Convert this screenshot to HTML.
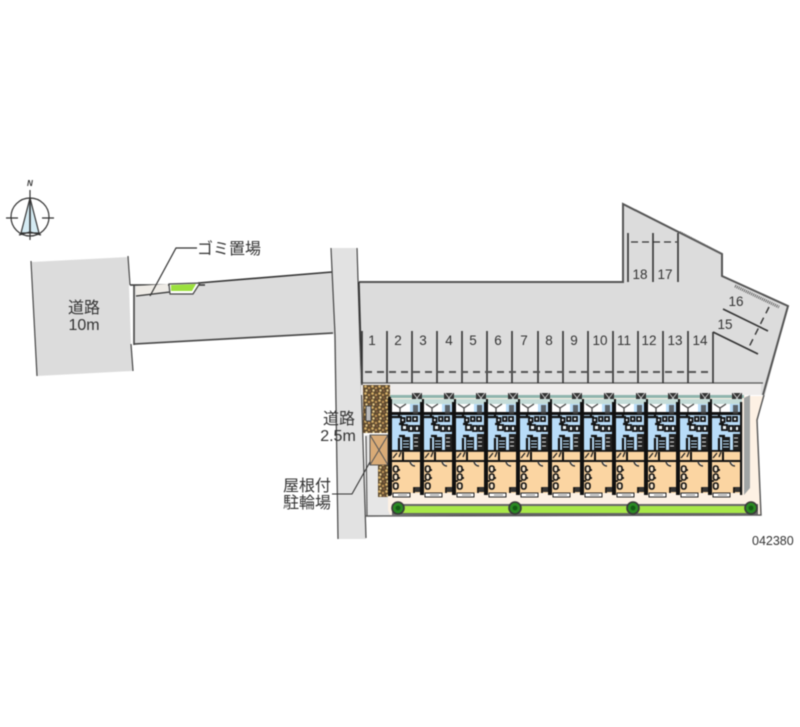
<!DOCTYPE html>
<html lang="ja"><head><meta charset="utf-8"><title>配置図</title>
<style>
html,body{margin:0;padding:0;background:#fff}
svg{display:block;filter:blur(.45px)}
text{font-family:"Liberation Sans","Noto Sans CJK JP",sans-serif;fill:#333}
</style></head><body>
<svg width="800" height="727" viewBox="0 0 800 727" xmlns="http://www.w3.org/2000/svg">
<defs>
<g id="unit">
<!-- balcony marker -->
<rect x="22" y="393" width="10" height="10" fill="#333"/>
<path d="M23 393l4 5 4-5M24 402l3-4 3 4" stroke="#ccc" fill="none"/>
<!-- top -->
<rect x="1" y="399" width="31" height="5" fill="#c5dcd8"/>
<rect x="2" y="404" width="18" height="8" fill="#fff"/>
<path d="M4 404l6 4 6-4M10 408v4" stroke="#444" stroke-width="1.3" fill="none"/>
<rect x="20" y="404" width="10" height="10" fill="#b8dcf8"/>
<!-- blue -->
<rect x="2" y="412" width="29" height="39" fill="#b8dcf8"/>
<rect x="1" y="412" width="30" height="3" fill="#111"/>
<path d="M9 424h5M9 436h6M2 417h10M9 415v3M9 438v12" stroke="#111" stroke-width="2.2" fill="none"/>
<g fill="#eef6fb" stroke="#111" stroke-width="1.8">
<rect x="11" y="418" width="3.5" height="4"/><rect x="17" y="417" width="3.5" height="4"/><rect x="23" y="417" width="4" height="4"/>
<rect x="12" y="425" width="5" height="5"/><rect x="19" y="426" width="4" height="5"/><rect x="25" y="426" width="4" height="5"/>
</g>
<rect x="12" y="437" width="8" height="13" fill="#1a1a1a"/>
<path d="M13 441h6M13 444h6M13 447h6" stroke="#b8dcf8" fill="none"/>
<rect x="23" y="434" width="7" height="16" fill="#222"/>
<path d="M24 438h4M24 442h4M24 446h4" stroke="#ddd" fill="none"/>
<rect x="23" y="405" width="5" height="9" fill="#444" opacity=".8"/>
<!-- orange -->
<rect x="2" y="451" width="29" height="42" fill="#fbd5a2"/>
<rect x="1" y="450" width="31" height="1.8" fill="#111"/>
<path d="M2 461h11v-9M14 461h17" stroke="#111" stroke-width="2" fill="none"/>
<path d="M3 458l4-5M9 457l2-5" stroke="#222" stroke-width="1.3" fill="none"/>
<path d="M20 461a5 5 0 0 0 5 5" stroke="#333" stroke-width="1.4" fill="#fff"/>
<g fill="#fae8cf" stroke="#111" stroke-width="1.6">
<rect x="3.5" y="466" width="4.5" height="6" rx="2"/><rect x="3.5" y="474" width="4.5" height="6" rx="2"/><rect x="3.5" y="483" width="4.5" height="6" rx="2"/>
</g>
<path d="M1 481h3M8 470h2M8 478h2M24 493v-5h7" stroke="#111" stroke-width="1.8" fill="none"/>
<rect x="25" y="487" width="6" height="5" fill="#333"/>
<!-- walls -->
<rect x="0" y="399" width="2" height="96" fill="#111"/>
<rect x="30" y="402" width="2.2" height="93" fill="#111"/>
<!-- bottom box -->
<rect x="3" y="493" width="17" height="4" fill="#fff" stroke="#222" stroke-width="1"/>
<path d="M8 495h9" stroke="#888" fill="none"/>
</g>
<g id="tree">
<circle r="6" fill="#2a8a22" stroke="#3a3a3a" stroke-width="1.6"/>
<circle r="2.4" fill="#145a14"/>
</g>
<pattern id="grav" width="7" height="7" patternUnits="userSpaceOnUse">
<rect width="7" height="7" fill="#5e4a2e"/>
<circle cx="1.5" cy="1.5" r="1.3" fill="#d9b36a"/><circle cx="5" cy="3" r="1.2" fill="#c2965a"/><circle cx="2.5" cy="5.5" r="1.2" fill="#e3c98c"/><circle cx="6" cy="6" r=".8" fill="#9a6a4a"/>
</pattern>
</defs>

<!-- compass -->
<g fill="none" stroke="#333" stroke-width="1.2">
<circle cx="30" cy="217" r="19"/>
<path d="M30 190V240"/>
<path d="M6 218h12M42 218h12"/>
<path d="M30 198L21 233H39Z" fill="#d5ebf3"/>
<path d="M30 198V233" stroke-width="1.6"/>
<path d="M19 235l11-3 11 3"/>
</g>
<text x="27" y="186" style="font:italic bold 8px 'Liberation Sans',sans-serif" fill="#222">N</text>

<!-- left road -->
<polygon points="32,262 128,257 131,345 133,371 37,376" fill="#dcdcdc"/>
<path d="M31 261l6 115M128 256l2 29M131 344l2 27" stroke="#444" stroke-width="1.2" fill="none"/>
<polygon points="134,285 198,283 332,272 335,334 134,345" fill="#dcdcdc"/>
<path d="M130 285H205M198 283L332 272" stroke="#333" stroke-width="1.6" fill="none"/>
<path d="M134 344L333 333" stroke="#444" stroke-width="1.6" fill="none"/>
<path d="M134 285V345" stroke="#444" stroke-width="1.6" fill="none"/>
<!-- garbage area -->
<polygon points="136,286 168,284 168,291 136,296" fill="#eeebe6"/>
<path d="M136 296L170 292" stroke="#333" stroke-width="1.2" fill="none"/>
<polygon points="169,284 200,283 193,294 170,294" fill="#fff" stroke="#444" stroke-width="1.2"/>
<polygon points="171,285 196,284 192,291 171,291" fill="#9be03e"/>
<path d="M150 296L176 248H197" stroke="#333" stroke-width="1.2" fill="none"/>
<text x="197" y="254" font-size="16">ゴミ置場</text>
<text x="84" y="313" font-size="16" text-anchor="middle">道路</text>
<text x="84" y="330" font-size="16" text-anchor="middle">10m</text>

<!-- vertical road -->
<polygon points="332,248 356,248 366,539 338,539" fill="#e2e2e2"/>
<path d="M331 248L335 335L338 539M357 248L360 345L366 538" stroke="#444" stroke-width="1.2" fill="none"/>

<!-- parking lot -->
<polygon points="359,282 622,282 622,204 722,254 722,276 788,306 765,395 361,395" fill="#dcdcdc"/>
<rect x="361" y="383" width="400" height="12" fill="#eeeceb"/>
<path d="M359 282H623V204L722 254V276L788 306L763 395" fill="none" stroke="#555" stroke-width="2"/>
<path d="M359 282L362 385" stroke="#333" stroke-width="1.4" fill="none"/>
<path d="M361 383H763" stroke="#555" stroke-width="1.2" fill="none"/>
<path d="M735 286L779 307" stroke="#666" stroke-width="3" stroke-dasharray="1 1" fill="none"/>
<path d="M680 232L722 254" stroke="#666" stroke-width="2" stroke-dasharray="1 1" fill="none"/>

<!-- bays -->
<g stroke="#333" stroke-width="1.6" fill="none">
<path d="M362 331V383M387 331V383M412 331V383M437 331V383M462 331V383M487 331V383M512 331V383M538 331V383M563 331V383M588 331V383M613 331V383M638 331V383M663 331V383M688 331V383M713 332V383"/>
<path d="M628 233V282M653 233V282M678 233V282"/>
<path d="M723 309L768 331M713 332L758 354"/>
</g>
<path d="M365 372H713" stroke="#555" stroke-width="2" stroke-dasharray="7 5" fill="none"/>
<path d="M631 242H677" stroke="#333" stroke-width="1.2" stroke-dasharray="7 4" fill="none"/>
<path d="M769 307L749 347" stroke="#333" stroke-width="1.4" stroke-dasharray="7 5" fill="none"/>
<g font-size="13.5" text-anchor="middle" fill="#333">
<text x="372" y="345">1</text><text x="398" y="345">2</text><text x="423" y="345">3</text><text x="449" y="345">4</text><text x="473" y="345">5</text><text x="498" y="345">6</text><text x="524" y="345">7</text><text x="549" y="345">8</text><text x="574" y="345">9</text><text x="600" y="345">10</text><text x="624" y="345">11</text><text x="649" y="345">12</text><text x="675" y="345">13</text><text x="700" y="345">14</text>
<text x="640" y="279">18</text><text x="665" y="279">17</text>
<text x="736" y="306">16</text><text x="725" y="329">15</text>
</g>

<!-- site ground -->
<polygon points="388,396 763,396 757,425 761,515 388,515" fill="#fdf1e4"/>
<polygon points="365,435 388,435 388,510 390,515 367,515" fill="#e6e6e6"/>
<path d="M764 395L757 420L761 515L366 516" stroke="#555" stroke-width="1.4" fill="none"/>
<path d="M366 436L367 516" stroke="#555" stroke-width="1.2" fill="none"/>
<rect x="390" y="395" width="354" height="3" fill="#8fb5ae"/>
<polygon points="744,398 750,395 750,488 744,495" fill="#a0a4a4"/>

<!-- gravel + bike -->
<rect x="363" y="385" width="27" height="48" fill="url(#grav)"/>
<rect x="366" y="406" width="5" height="15" fill="#bbb" stroke="#444"/>
<rect x="370" y="435" width="18" height="30" fill="#d9ab77" stroke="#555"/>
<path d="M370 435L388 465M388 435L370 465" stroke="#555" fill="none"/>
<rect x="378" y="465" width="10" height="32" fill="url(#grav)"/>
<path d="M332 494H352L370 462" stroke="#333" stroke-width="1.1" fill="none"/>

<!-- units -->
<use href="#unit" x="390"/><use href="#unit" x="422"/><use href="#unit" x="454"/><use href="#unit" x="486"/><use href="#unit" x="518"/><use href="#unit" x="550"/><use href="#unit" x="582"/><use href="#unit" x="614"/><use href="#unit" x="646"/><use href="#unit" x="678"/><use href="#unit" x="710"/>
<rect x="388" y="397" width="3" height="99" fill="#111"/>

<!-- green strip -->
<rect x="392" y="504" width="366" height="11" fill="#666"/>
<rect x="394" y="506" width="356" height="7" fill="#a8e848"/>
<use href="#tree" x="398" y="508"/><use href="#tree" x="515" y="508"/><use href="#tree" x="633" y="508"/><use href="#tree" x="751" y="508"/>

<!-- labels -->
<text x="339" y="424" font-size="16" text-anchor="middle">道路</text>
<text x="338" y="441" font-size="16" text-anchor="middle">2.5m</text>
<text x="307" y="491" font-size="16" text-anchor="middle">屋根付</text>
<text x="307" y="508" font-size="16" text-anchor="middle">駐輪場</text>
<text x="752" y="545" font-size="12.5" fill="#333">042380</text>
</svg>
</body></html>
